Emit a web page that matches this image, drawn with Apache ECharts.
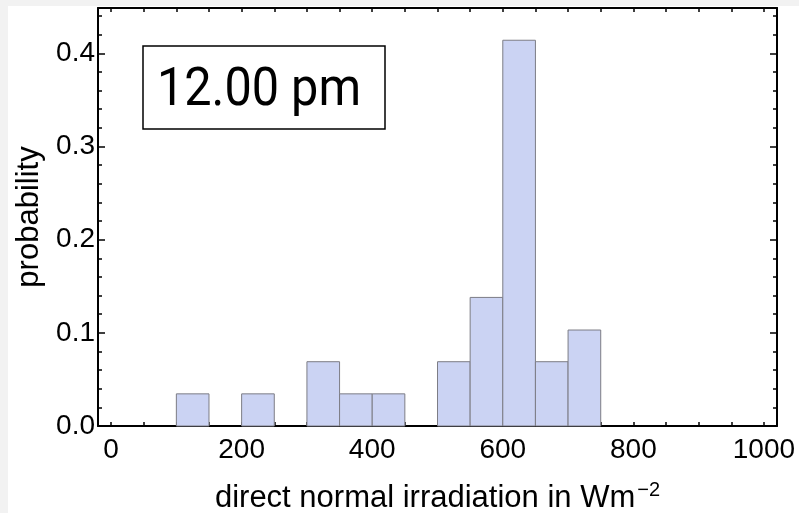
<!DOCTYPE html>
<html>
<head>
<meta charset="utf-8">
<script src="https://cdn.jsdelivr.net/npm/echarts@6/dist/echarts.min.js"></script>
<style>
  html, body { margin: 0; padding: 0; background: #f2f2f2; }
  #paper { position: absolute; left: 8px; top: 6px; right: 0; bottom: 0; background: #fff; }
  #main { position: absolute; left: 0; top: 0; width: 799px; height: 513px; }
</style>
</head>
<body>
<div id="paper"></div>
<div id="main"></div>
<script>
// histogram bins (left edges, width 50) and their probabilities
var binStart = [100, 200, 300, 350, 400, 500, 550, 600, 650, 700];
var binWidth = 50;
var probability = [0.0345, 0.0345, 0.069, 0.0345, 0.0345, 0.069, 0.138, 0.414, 0.069, 0.103];

// axis ticks
var xLabels = [0, 200, 400, 600, 800, 1000];
var xMinorTicks = [0, 50, 100, 150, 200, 250, 300, 350, 400, 450, 500, 550, 600, 650, 700, 750, 800, 850, 900, 950, 1000];

var chart = echarts.init(document.getElementById('main'));

var bins = binStart.map(function (b, i) {
  return [b, b + binWidth, probability[i]];
});

var tickFont = { fontFamily: 'Liberation Sans, Arial, sans-serif', fontSize: 28, color: '#000' };

var option = {
  backgroundColor: 'transparent',
  animation: false,
  grid: { left: 98, right: 22, top: 8, bottom: 87, containLabel: false, outerBoundsMode: 'none' },
  xAxis: [
    {
      type: 'value',
      position: 'bottom',
      min: -20,
      max: 1020,
      name: 'direct normal irradiation in Wm{sup|\u22122}',
      nameLocation: 'middle',
      nameGap: 54,
      nameTextStyle: {
        fontFamily: 'Liberation Sans, Arial, sans-serif',
        fontSize: 31,
        color: '#000',
        rich: {
          sup: { fontFamily: 'Liberation Sans, Arial, sans-serif', fontSize: 20, verticalAlign: 'top', padding: [0, 0, 16, 2], color: '#000' }
        }
      },
      axisLine: { show: true, onZero: false, lineStyle: { color: '#000', width: 2 } },
      axisTick: { show: true, inside: true, length: 4, customValues: xMinorTicks, lineStyle: { color: '#000', width: 1.5 } },
      axisLabel: Object.assign({
        customValues: xLabels,
        margin: 10,
        formatter: function (v) { return String(v); }
      }, tickFont),
      splitLine: { show: false }
    },
    {
      type: 'value',
      position: 'top',
      min: -20,
      max: 1020,
      axisLine: { show: true, onZero: false, lineStyle: { color: '#000', width: 2 } },
      axisTick: { show: true, inside: true, length: 4, customValues: xMinorTicks, lineStyle: { color: '#000', width: 1.5 } },
      axisLabel: { show: false },
      splitLine: { show: false }
    }
  ],
  yAxis: [
    {
      type: 'value',
      position: 'left',
      min: 0,
      max: 0.4486,
      interval: 0.1,
      name: 'probability',
      nameLocation: 'middle',
      nameGap: 52,
      nameTextStyle: { fontFamily: 'Liberation Sans, Arial, sans-serif', fontSize: 31, color: '#000' },
      axisLine: { show: true, onZero: false, lineStyle: { color: '#000', width: 2 } },
      axisTick: { show: true, inside: true, length: 7, lineStyle: { color: '#000', width: 1.5 } },
      minorTick: { show: true, splitNumber: 5, length: 4, lineStyle: { color: '#000', width: 1.5 } },
      axisLabel: Object.assign({
        margin: 3,
        showMaxLabel: false,
        formatter: function (v) { return v.toFixed(1); }
      }, tickFont),
      splitLine: { show: false }
    },
    {
      type: 'value',
      position: 'right',
      min: 0,
      max: 0.4486,
      interval: 0.1,
      axisLine: { show: true, onZero: false, lineStyle: { color: '#000', width: 2 } },
      axisTick: { show: true, inside: true, length: 7, lineStyle: { color: '#000', width: 1.5 } },
      minorTick: { show: true, splitNumber: 5, length: 4, lineStyle: { color: '#000', width: 1.5 } },
      axisLabel: { show: false },
      splitLine: { show: false }
    }
  ],
  graphic: [
    {
      type: 'rect',
      shape: { x: 143, y: 46, width: 242, height: 83 },
      style: { fill: '#fff', stroke: '#000', lineWidth: 1.5 },
      z: 10
    },
    {
      type: 'text',
      x: 259,
      y: 91,
      scaleX: 0.9,
      style: {
        text: '12.00 pm',
        font: '54px Roboto, sans-serif',
        fill: '#000',
        textAlign: 'center',
        textVerticalAlign: 'middle'
      },
      z: 11
    }
  ],
  series: [
    {
      type: 'custom',
      xAxisIndex: 0,
      yAxisIndex: 0,
      data: bins,
      encode: { x: [0, 1], y: 2 },
      renderItem: function (params, api) {
        var topLeft = api.coord([api.value(0), api.value(2)]);
        var bottomRight = api.coord([api.value(1), 0]);
        return {
          type: 'rect',
          shape: {
            x: topLeft[0],
            y: topLeft[1],
            width: bottomRight[0] - topLeft[0],
            height: bottomRight[1] - topLeft[1]
          },
          style: { fill: '#cbd3f3', stroke: '#7d7d85', lineWidth: 1 }
        };
      }
    }
  ]
};

chart.setOption(option);
</script>
</body>
</html>
